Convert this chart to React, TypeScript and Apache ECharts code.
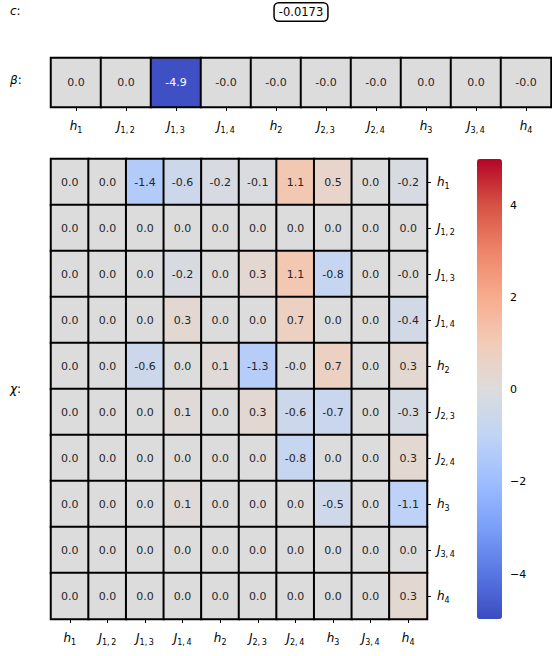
import React, { useEffect, useRef } from 'react';
import * as echarts from 'echarts';

// ---- data ----
const VAR_NAMES = ['h', 'J', 'J', 'J', 'h', 'J', 'J', 'h', 'J', 'h'];
const VAR_SUBS = ['1', '1,\u20092', '1,\u20093', '1,\u20094', '2', '2,\u20093', '2,\u20094', '3', '3,\u20094', '4'];
const CATEGORIES = VAR_NAMES.map((n, i) => `${n}_${VAR_SUBS[i]}`);

const C_VALUE = -0.0173;
const BETA = [0.0, 0.0, -4.9, -0.01, -0.01, -0.01, -0.01, 0.0, 0.0, -0.01];
const CHI_ROWS = [
  [0.0, 0.0, -1.4, -0.6, -0.2, -0.1, 1.1, 0.5, 0.0, -0.2],
  [0.0, 0.0, 0.0, 0.0, 0.0, 0.0, 0.0, 0.0, 0.0, 0.0],
  [0.0, 0.0, 0.0, -0.2, 0.0, 0.3, 1.1, -0.8, 0.0, -0.01],
  [0.0, 0.0, 0.0, 0.3, 0.0, 0.0, 0.7, 0.0, 0.0, -0.4],
  [0.0, 0.0, -0.6, 0.0, 0.1, -1.3, -0.01, 0.7, 0.0, 0.3],
  [0.0, 0.0, 0.0, 0.1, 0.0, 0.3, -0.6, -0.7, 0.0, -0.3],
  [0.0, 0.0, 0.0, 0.0, 0.0, 0.0, -0.8, 0.0, 0.0, 0.3],
  [0.0, 0.0, 0.0, 0.1, 0.0, 0.0, 0.0, -0.5, 0.0, -1.1],
  [0.0, 0.0, 0.0, 0.0, 0.0, 0.0, 0.0, 0.0, 0.0, 0.0],
  [0.0, 0.0, 0.0, 0.0, 0.0, 0.0, 0.0, 0.0, 0.0, 0.3],
];
const COLOR_MIN = -5;
const COLOR_MAX = 5;
const COLORBAR_TICK_MIN = -4;
const COLORBAR_TICK_MAX = 4;
const COLORBAR_TICK_STEP = 2;
const COOLWARM = [
  '#3b4cc0', '#5977e3', '#7b9ff9', '#9ebeff', '#c0d4f5', '#dddcdc',
  '#f2cbb7', '#f7ac8e', '#ee8468', '#d65244', '#b40426',
];

const FONT = 'DejaVu Sans';

const fmtCat = (name: string) => {
  const idx = name.indexOf('_');
  const v = name.slice(0, idx);
  const s = name.slice(idx + 1);
  return `{v|${v}}{s|${s}}`;
};
const catRich = {
  v: { fontFamily: FONT, fontStyle: 'italic', fontSize: 12, color: '#000', lineHeight: 16 },
  s: { fontFamily: FONT, fontSize: 8, color: '#000', lineHeight: 10, verticalAlign: 'bottom' },
};

const cellItem = (x: number, y: number, v: number) => ({
  value: [x, y, v],
  label: { color: Math.abs(v) > 3 ? '#ffffff' : '#262626' },
});

export default function App() {
  const ref = useRef<HTMLDivElement>(null);
  useEffect(() => {
    if (!ref.current) return;
    const chart = echarts.init(ref.current, null, { renderer: 'svg' });
    const betaData = BETA.map((v, i) => cellItem(i, 0, v));
    const chiData: any[] = [];
    CHI_ROWS.forEach((row, r) => row.forEach((v, c) => chiData.push(cellItem(c, r, v))));

    const labelCfg = {
      show: true,
      formatter: (p: any) => Number(p.value[2]).toFixed(1),
      fontFamily: FONT,
      fontSize: 11,
    };
    const tickCfg = { show: true, length: 4, alignWithLabel: true, interval: 0, lineStyle: { color: '#000', width: 1 } };

    chart.setOption({
      animation: false,
      backgroundColor: '#fff',
      grid: [
        { left: 51, top: 58, width: 500, height: 49 },
        { left: 51, top: 159, width: 376, height: 460 },
        { left: 477, top: 205, width: 25, height: 369 },
      ],
      xAxis: [
        {
          gridIndex: 0, type: 'category', data: CATEGORIES, position: 'bottom',
          axisLine: { show: false }, axisTick: tickCfg, splitLine: { show: false },
          axisLabel: { formatter: fmtCat, rich: catRich, margin: 11, interval: 0 },
        },
        {
          gridIndex: 1, type: 'category', data: CATEGORIES, position: 'bottom',
          axisLine: { show: false }, axisTick: tickCfg, splitLine: { show: false },
          axisLabel: { formatter: fmtCat, rich: catRich, margin: 11, interval: 0 },
        },
        { gridIndex: 2, type: 'value', show: false },
      ],
      yAxis: [
        { gridIndex: 0, type: 'category', data: ['β'], show: false },
        {
          gridIndex: 1, type: 'category', data: CATEGORIES, inverse: true, position: 'right',
          axisLine: { show: false }, axisTick: tickCfg, splitLine: { show: false },
          axisLabel: { formatter: fmtCat, rich: catRich, margin: 10, interval: 0 },
        },
        {
          gridIndex: 2, type: 'value', position: 'right',
          min: COLORBAR_TICK_MIN, max: COLORBAR_TICK_MAX, interval: COLORBAR_TICK_STEP,
          axisLine: { show: false }, splitLine: { show: false },
          axisTick: { show: true, length: 4, lineStyle: { color: '#000', width: 1 } },
          axisLabel: {
            fontFamily: FONT, fontSize: 11, color: '#000', margin: 8,
            formatter: (v: number) => (v < 0 ? '\u2212' + Math.abs(v) : String(v)),
          },
        },
      ],
      visualMap: {
        type: 'continuous',
        min: COLOR_MIN, max: COLOR_MAX,
        dimension: 2,
        seriesIndex: [0, 1],
        inRange: { color: COOLWARM },
        show: true,
        calculable: false,
        hoverLink: false,
        left: 477, top: 159,
        itemWidth: 25, itemHeight: 460,
        padding: 0,
        text: null,
        orient: 'vertical',
      },
      graphic: [
        {
          type: 'text', x: 10, y: 11,
          style: {
            text: '{v|c}{n|:}', verticalAlign: 'middle', align: 'left',
            rich: {
              v: { fontFamily: FONT, fontStyle: 'italic', fontSize: 12, fill: '#000' },
              n: { fontFamily: FONT, fontSize: 12, fill: '#000' },
            },
          },
        },
        {
          type: 'text', x: 10, y: 80,
          style: {
            text: '{v|β}{n|:}', verticalAlign: 'middle', align: 'left',
            rich: {
              v: { fontFamily: FONT, fontStyle: 'italic', fontSize: 12, fill: '#000' },
              n: { fontFamily: FONT, fontSize: 12, fill: '#000' },
            },
          },
        },
        {
          type: 'text', x: 10, y: 389,
          style: {
            text: '{v|χ}{n|:}', verticalAlign: 'middle', align: 'left',
            rich: {
              v: { fontFamily: FONT, fontStyle: 'italic', fontSize: 12, fill: '#000' },
              n: { fontFamily: FONT, fontSize: 12, fill: '#000' },
            },
          },
        },
        {
          type: 'text', x: 301, y: 12,
          style: {
            text: C_VALUE.toFixed(4), fontFamily: FONT, fontSize: 11.5, fill: '#000',
            align: 'center', verticalAlign: 'middle',
            backgroundColor: '#fff', borderColor: '#000', borderWidth: 1.5, borderRadius: 4,
            padding: [3, 4, 2, 4],
          },
        },
      ],
      series: [
        {
          type: 'heatmap', xAxisIndex: 0, yAxisIndex: 0, data: betaData,
          label: labelCfg,
          itemStyle: { borderColor: '#000', borderWidth: 2 },
          emphasis: { disabled: true },
        },
        {
          type: 'heatmap', xAxisIndex: 1, yAxisIndex: 1, data: chiData,
          label: labelCfg,
          itemStyle: { borderColor: '#000', borderWidth: 2 },
          emphasis: { disabled: true },
        },
      ],
    });
    return () => chart.dispose();
  }, []);
  return <div ref={ref} style={{ position: 'absolute', left: 0, top: 0, width: 552, height: 656 }} />;
}
